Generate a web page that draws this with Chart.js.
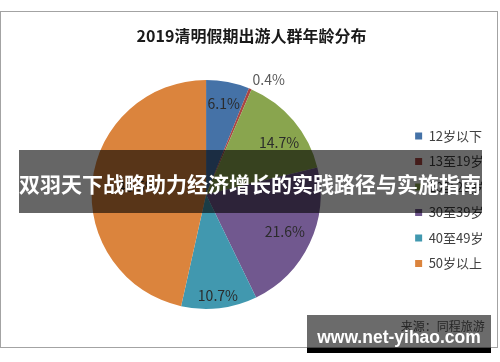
<!DOCTYPE html>
<html lang="zh">
  <head>
    <meta charset="UTF-8" />
    <title>2019清明假期出游人群年龄分布</title>
    <script src="https://cdn.jsdelivr.net/npm/chart.js"></script>
    <style>
      body {
        margin: 0;
        background: #fff;
        font-family: "Noto Sans CJK SC", "Noto Sans", sans-serif;
      }
      .frame {
        position: absolute;
        left: 0;
        top: 11px;
        width: 496px;
        height: 335px;
        border: 1px solid #a3a3a3;
      }
      .banner {
        position: absolute;
        left: 19px;
        top: 150px;
        width: 463px;
        height: 63px;
        background: rgba(0, 0, 0, 0.6);
        color: #fff;
        font-weight: bold;
        font-size: 21px;
        line-height: 66px;
        white-space: nowrap;
        overflow: hidden;
      }
      .mark {
        position: absolute;
        left: 307px;
        top: 315px;
        width: 184px;
        height: 33px;
        background: rgba(0, 0, 0, 0.58);
        border-bottom: 5px solid #000;
        color: #fff;
        font-family: "Liberation Sans", Arial, sans-serif;
        font-weight: bold;
        font-size: 17.5px;
        line-height: 44px;
        text-align: center;
      }
    </style>
  </head>
  <body>
    <div class="frame">
      <canvas id="pie" width="496" height="335"></canvas>
    </div>
    <div class="banner">双羽天下战略助力经济增长的实践路径与实施指南</div>
    <div class="mark">www.net-yihao.com</div>

    <script>
      const ageGroups = ["12岁以下", "13至19岁", "20至29岁", "30至39岁", "40至49岁", "50岁以上"];
      const shares = [6.1, 0.4, 14.7, 21.6, 10.7, 46.5];
      const sliceColors = ["#4572a7", "#aa4643", "#89a54e", "#71588f", "#4198af", "#db843d"];

      // label placement per slice: fraction of radius, angle nudge in degrees
      const labelRadius = [0.81, 1.14, 0.78, 0.76, 0.89, 0.6];
      const labelNudge = [0, 6, 5, 0, 0, 0];

      const pieLabels = {
        id: "pieLabels",
        afterDatasetsDraw(chart) {
          const ctx = chart.ctx;
          const meta = chart.getDatasetMeta(0);
          ctx.save();
          ctx.font = '14px "Noto Sans CJK SC", "Noto Sans", sans-serif';
          ctx.textAlign = "center";
          ctx.textBaseline = "middle";
          meta.data.forEach((arc, i) => {
            const p = arc.getProps(["x", "y", "startAngle", "endAngle", "outerRadius"], true);
            const mid = (p.startAngle + p.endAngle) / 2 + (labelNudge[i] * Math.PI) / 180;
            const r = p.outerRadius * labelRadius[i];
            ctx.fillStyle = labelRadius[i] > 1 ? "#595959" : "#2b2b2b";
            ctx.fillText(shares[i].toFixed(1) + "%", p.x + Math.cos(mid) * r, p.y + Math.sin(mid) * r);
          });
          ctx.restore();
        },
      };

      new Chart(document.getElementById("pie"), {
        type: "pie",
        data: {
          labels: ageGroups,
          datasets: [
            {
              data: shares,
              backgroundColor: sliceColors,
              borderWidth: 0,
            },
          ],
        },
        options: {
          responsive: false,
          animation: false,
          layout: { padding: { left: 8.5, right: 3.5, top: 0, bottom: 0 } },
          plugins: {
            title: {
              display: true,
              text: "2019清明假期出游人群年龄分布",
              color: "#1a1a1a",
              font: { family: '"Noto Sans CJK SC", sans-serif', size: 16, weight: "bold" },
              padding: { top: 14.4, bottom: 34.4 },
            },
            subtitle: {
              display: true,
              position: "bottom",
              align: "end",
              text: "来源：同程旅游\u2002 ",
              color: "#595959",
              font: { family: '"Noto Sans CJK SC", sans-serif', size: 12 },
              padding: { top: 9.8, bottom: 13.8 },
            },
            legend: {
              position: "right",
              title: { display: true, text: "", font: { size: 1 }, padding: { top: 0, bottom: 39.3 } },
              labels: {
                boxWidth: 7,
                boxHeight: 7,
                padding: 12.5,
                color: "#404040",
                font: { family: '"Noto Sans CJK SC", sans-serif', size: 13 },
              },
            },
            tooltip: { enabled: false },
          },
        },
        plugins: [pieLabels],
      });
    </script>
  </body>
</html>
